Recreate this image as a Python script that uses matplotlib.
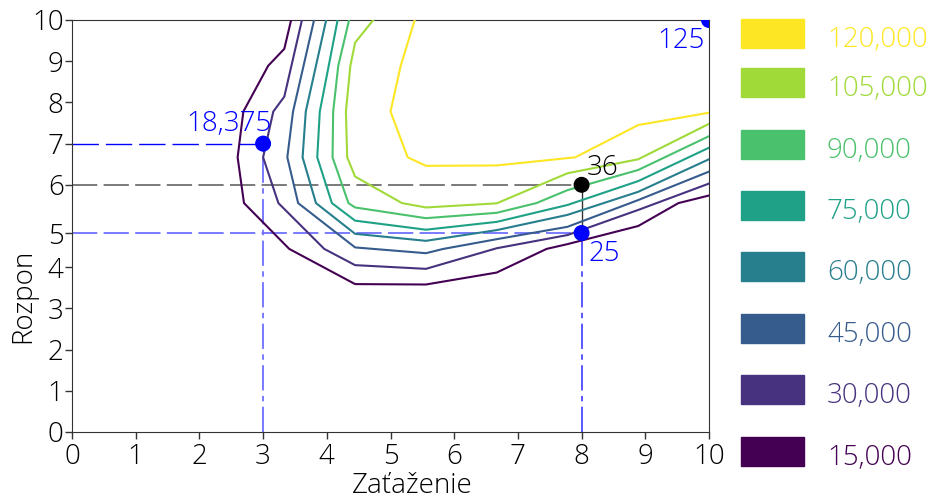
import numpy as np
import matplotlib.pyplot as plt
from matplotlib.patches import Rectangle

plt.rcParams['font.family'] = ['Open Sans', 'DejaVu Sans']
plt.rcParams['font.weight'] = 'light'
plt.rcParams['axes.labelweight'] = 'light'

levels = [15000, 30000, 45000, 60000, 75000, 90000, 105000, 120000]
level_labels = ['15,000', '30,000', '45,000', '60,000', '75,000', '90,000', '105,000', '120,000']

# contour lines (x = Zaťaženie, y = Rozpon)
c15_x = [3.44, 3.333, 3.08, 2.69, 2.60, 2.70, 3.41, 4.444, 5.556, 6.667, 7.45, 7.778, 8.889, 9.52, 10]
c15_y = [10, 9.30, 8.889, 7.778, 6.667, 5.556, 4.444, 3.59, 3.58, 3.87, 4.444, 4.56, 5.0, 5.556, 5.74]
c30_x = [3.61, 3.333, 3.16, 3.0, 3.24, 3.96, 4.444, 5.556, 6.667, 7.778, 8.889, 10]
c30_y = [10, 8.14, 7.778, 6.667, 5.556, 4.444, 4.05, 3.96, 4.46, 4.78, 5.39, 6.03]
c45_x = [3.80, 3.47, 3.38, 3.55, 4.444, 5.556, 5.83, 6.667, 7.778, 8.889, 10]
c45_y = [10, 7.778, 6.667, 5.556, 4.48, 4.34, 4.444, 4.68, 4.98, 5.63, 6.32]
c60_x = [3.99, 3.67, 3.62, 3.83, 4.444, 5.556, 6.667, 7.778, 8.889, 10]
c60_y = [10, 7.778, 6.667, 5.556, 4.81, 4.64, 4.90, 5.27, 5.83, 6.62]
c75_x = [4.17, 3.89, 3.85, 4.08, 4.444, 5.556, 6.667, 7.778, 8.889, 10]
c75_y = [10, 7.778, 6.667, 5.556, 5.13, 4.91, 5.10, 5.51, 6.09, 6.90]
c90_x = [4.35, 4.18, 4.10, 4.09, 4.34, 4.444, 5.556, 6.667, 7.29, 7.778, 8.889, 10]
c90_y = [10, 8.889, 7.778, 6.667, 5.556, 5.45, 5.19, 5.32, 5.556, 5.87, 6.36, 7.18]
c105_x = [4.73, 4.444, 4.37, 4.30, 4.32, 4.444, 5.18, 5.556, 6.667, 7.778, 8.889, 10]
c105_y = [10, 9.45, 8.889, 7.778, 6.667, 6.2, 5.556, 5.45, 5.55, 6.28, 6.62, 7.48]
c120_x = [5.38, 5.16, 5.0, 5.27, 5.556, 6.667, 7.9, 8.889, 10]
c120_y = [10, 8.889, 7.778, 6.667, 6.46, 6.47, 6.667, 7.45, 7.75]

contours_x = [c15_x, c30_x, c45_x, c60_x, c75_x, c90_x, c105_x, c120_x]
contours_y = [c15_y, c30_y, c45_y, c60_y, c75_y, c90_y, c105_y, c120_y]

# marked points
pt_x = [3, 8, 8, 10]
pt_y = [7, 6, 4.83, 10]
pt_labels = ['18,375', '36', '25', '125']
pt_colors = ['#0000ff', 'black', '#0000ff', '#0000ff']

xticks = list(range(11))
ytick_pos = [0, 1, 2, 3, 4, 4.83, 6, 7, 8, 9, 10]
ytick_labels = [str(i) for i in range(11)]

colors = plt.cm.viridis(np.linspace(0, 1, len(levels)))

W, H = 934, 496
fig = plt.figure(figsize=(W / 100, H / 100), dpi=100)
ax = fig.add_axes([72 / W, 1 - 432 / H, (709 - 72) / W, (432 - 20) / H])

for xs, ys, c in zip(contours_x, contours_y, colors):
    ax.plot(xs, ys, color=c, lw=1.5, zorder=3)

# guide lines
ax.plot([0, pt_x[0]], [pt_y[0]] * 2, color='#0000ff', lw=1.0, dashes=(19, 5), zorder=2)
ax.plot([pt_x[0]] * 2, [0, pt_y[0]], color='#7070ff', lw=1.3, dashes=(14, 3, 3, 3), zorder=2)
ax.plot([0, pt_x[1]], [pt_y[1]] * 2, color='#707070', lw=1.3, dashes=(14, 3.5), zorder=2)
ax.plot([0, pt_x[2]], [pt_y[2]] * 2, color='#7070ff', lw=1.3, dashes=(14, 3.5), zorder=2)
ax.plot([pt_x[2]] * 2, [0, pt_y[2]], color='#4a4aff', lw=1.3, dashes=(14, 3, 3, 3), zorder=2)
ax.plot([pt_x[1]] * 2, [pt_y[2], pt_y[1]], color='#333333', lw=1.0, zorder=2)

ax.scatter(pt_x, pt_y, s=110, c=pt_colors, zorder=5, clip_on=True)

offsets = [(6, 4), (4, 2), (5, -5), (-3, -5)]
aligns = [('right', 'bottom'), ('left', 'bottom'), ('left', 'top'), ('right', 'top')]
for x, y, lab, c, off, (ha, va) in zip(pt_x, pt_y, pt_labels, pt_colors, offsets, aligns):
    ax.annotate(lab, (x, y), xytext=off, textcoords='offset points',
                ha=ha, va=va, color=c, fontsize=20)

ax.set_xlim(0, 10)
ax.set_ylim(0, 10)
ax.set_xticks(xticks)
ax.set_yticks(ytick_pos)
ax.set_yticklabels(ytick_labels)
ax.tick_params(labelsize=20, length=5, width=1, color='#333333', pad=1)
ax.tick_params(axis='x', pad=3)
for s in ax.spines.values():
    s.set_color('#333333')
ax.set_xlabel('Zaťaženie', fontsize=20)
ax.set_ylabel('Rozpon', fontsize=20)
ax.xaxis.set_label_coords(0.534, -0.097)
ax.yaxis.set_label_coords(-0.054, 0.33)

# legend built by hand: colored box and colored label per level
box_tops = [437, 375, 314, 252, 191, 130, 68, 19]
for top, c, lab in zip(box_tops, colors, level_labels):
    fig.add_artist(Rectangle((741 / W, 1 - (top + 29) / H), 63 / W, 29 / H,
                             transform=fig.transFigure, color=c))
    fig.text(827 / W, 1 - (top + 21) / H, lab, color=c, fontsize=20,
             ha='left', va='center')

fig.savefig('out.png', dpi=100)
